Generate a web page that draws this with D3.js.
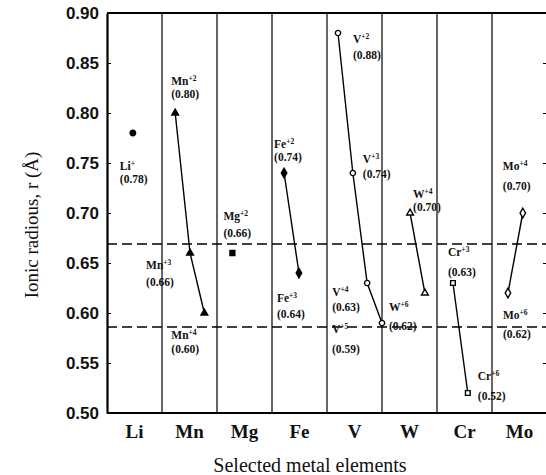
<!DOCTYPE html>
<html>
<head>
<meta charset="utf-8">
<script src="https://cdn.jsdelivr.net/npm/d3@7"></script>
<style>
  body { margin: 0; background: #fff; }
  svg { display: block; }
</style>
</head>
<body>
<div id="chart"></div>
<script>
// Categories on the x axis
const elements = ["Li", "Mn", "Mg", "Fe", "V", "W", "Cr", "Mo"];

// Ions: element, charge label, radius (A), slot inside the element column (0..1)
const ionElement = ["Li", "Mn", "Mn", "Mn", "Mg", "Fe", "Fe", "V", "V", "V", "V", "W", "W", "Cr", "Cr", "Mo", "Mo"];
const ionCharge = ["+", "+2", "+3", "+4", "+2", "+2", "+3", "+2", "+3", "+4", "+5", "+4", "+6", "+3", "+6", "+6", "+4"];
const ionRadius = [0.78, 0.80, 0.66, 0.60, 0.66, 0.74, 0.64, 0.88, 0.74, 0.63, 0.59, 0.70, 0.62, 0.63, 0.52, 0.62, 0.70];
const ionSlot = [0.47, 0.24, 0.51, 0.77, 0.28, 0.22, 0.49, 0.20, 0.47, 0.73, 1.0, 0.51, 0.78, 0.29, 0.56, 0.29, 0.56];

// Dashed reference levels
const refLevels = [0.669, 0.586];

// Y ticks
const yTicks = [0.50, 0.55, 0.60, 0.65, 0.70, 0.75, 0.80, 0.85, 0.90];

// Label placement (pixels from the marker): [dx, dy line1, dy line2]
const labelOffset = [
    [-13, 37, 50], [-4, -28, -15], [-44, 16, 33], [-33, 26, 40], [-9, -33, -16],
    [-10, -25, -12], [-22, 29, 45], [15, 10, 26], [10, -10, 5], [-35, 13, 28],
    [-50, 10, 30], [3, -15, -2], [-36, 18, 37], [-5, -27, -7], [10, -13, 7],
    [-5, 26, 45], [-20, -43, -23]
];

// Marker per element
const markerStyle = {
    Li: [d3.symbolCircle, true], Mn: [d3.symbolTriangle, true], Mg: [d3.symbolSquare, true],
    Fe: [d3.symbolDiamond, true], V: [d3.symbolCircle, false], W: [d3.symbolTriangle, false],
    Cr: [d3.symbolSquare, false], Mo: [d3.symbolDiamond, false]
};

let svgWidth = 546;
let svgHeight = 475;
let margin = { top: 13, left: 107, right: -1, bottom: 62 };
let width = svgWidth - margin.left - margin.right;
let height = svgHeight - margin.top - margin.bottom;

let svg = d3.select("#chart").append("svg")
    .attr("width", svgWidth)
    .attr("height", svgHeight);

let g = svg.append("g")
    .attr("transform", `translate(${margin.left},${margin.top})`);

let xBand = d3.scaleBand().domain(elements).range([0, width]);
let y = d3.scaleLinear().domain([0.50, 0.90]).range([height, 0]);

let ions = ionElement.map((el, i) => ({
    el: el, charge: ionCharge[i], r: ionRadius[i], slot: ionSlot[i], off: labelOffset[i]
}));
let px = d => xBand(d.el) + d.slot * xBand.bandwidth();

// column separators
g.selectAll(".sep")
    .data(elements.slice(1))
    .enter().append("line")
    .attr("x1", d => xBand(d)).attr("x2", d => xBand(d))
    .attr("y1", 0).attr("y2", height)
    .attr("stroke", "#000").attr("stroke-width", 1.2);

// dashed levels
g.selectAll(".ref")
    .data(refLevels)
    .enter().append("line")
    .attr("x1", 0).attr("x2", width)
    .attr("y1", d => y(d)).attr("y2", d => y(d))
    .attr("stroke", "#000").attr("stroke-width", 1.5)
    .attr("stroke-dasharray", "10,5");

// axes (inner ticks)
let leftAxis = d3.axisLeft(y).tickValues(yTicks).tickFormat(d3.format(".2f"))
    .tickSizeInner(-4).tickSizeOuter(0).tickPadding(8);
let gy = g.append("g").call(leftAxis);
gy.select(".domain").attr("stroke-width", 2.2);
gy.selectAll("text")
    .attr("font-family", "Liberation Sans, Arial, sans-serif")
    .attr("font-weight", "bold").attr("font-size", "17px").attr("fill", "#111");

let rightAxis = d3.axisRight(y).tickValues(yTicks).tickFormat("").tickSizeInner(-4).tickSizeOuter(0);
g.append("g").attr("transform", `translate(${width},0)`).call(rightAxis)
    .select(".domain").remove();

// top and bottom frame
g.append("line").attr("x1", 0).attr("x2", width).attr("y1", 0).attr("y2", 0)
    .attr("stroke", "#000").attr("stroke-width", 2.2);
g.append("line").attr("x1", 0).attr("x2", width).attr("y1", height).attr("y2", height)
    .attr("stroke", "#000").attr("stroke-width", 2.2);

// element labels
g.selectAll(".cat")
    .data(elements)
    .enter().append("text")
    .attr("x", d => xBand(d) + xBand.bandwidth() / 2)
    .attr("y", height + 25)
    .attr("text-anchor", "middle")
    .attr("font-family", "Liberation Serif, Times New Roman, serif")
    .attr("font-weight", "bold").attr("font-size", "19px").attr("fill", "#111")
    .text(d => d);

// connecting lines per element
let line = d3.line().x(px).y(d => y(d.r));
elements.forEach(el => {
    let pts = ions.filter(d => d.el === el);
    if (pts.length > 1) {
        g.append("path").datum(pts)
            .attr("d", line)
            .attr("fill", "none").attr("stroke", "#000").attr("stroke-width", 1.4);
    }
});

// markers
g.selectAll(".pt")
    .data(ions)
    .enter().append("path")
    .attr("transform", d => `translate(${px(d)},${y(d.r)})`)
    .attr("d", d => {
        let s = markerStyle[d.el][0];
        let filled = markerStyle[d.el][1];
        let size = s === d3.symbolTriangle ? 20 : (s === d3.symbolDiamond ? 26 : (filled ? 24 : 22));
        return d3.symbol().type(s).size(size)();
    })
    .attr("fill", d => markerStyle[d.el][1] ? "#000" : "#fff")
    .attr("stroke", "#000").attr("stroke-width", 1.4);

// ion labels
let labels = g.selectAll(".lab")
    .data(ions)
    .enter().append("g")
    .attr("font-family", "Liberation Serif, Times New Roman, serif")
    .attr("font-weight", "bold").attr("fill", "#111");
let name = labels.append("text")
    .attr("x", d => px(d) + d.off[0])
    .attr("y", d => y(d.r) + d.off[1])
    .attr("font-size", "11.5px");
name.append("tspan").text(d => d.el);
name.append("tspan").attr("font-size", "7.5px").attr("dy", -4).text(d => d.charge);
labels.append("text")
    .attr("x", d => px(d) + d.off[0])
    .attr("y", d => y(d.r) + d.off[2])
    .attr("font-size", "11.5px")
    .text(d => `(${d.r.toFixed(2)})`);

// axis titles
svg.append("text")
    .attr("transform", `translate(38,${margin.top + 212}) rotate(-90)`)
    .attr("text-anchor", "middle")
    .attr("font-family", "Liberation Serif, Times New Roman, serif")
    .attr("font-size", "19px").attr("fill", "#111")
    .text("Ionic radious, r (\u00C5)");

svg.append("text")
    .attr("x", 310)
    .attr("y", 472)
    .attr("text-anchor", "middle")
    .attr("font-family", "Liberation Serif, Times New Roman, serif")
    .attr("font-size", "20px").attr("fill", "#111")
    .text("Selected metal elements");
</script>
</body>
</html>
